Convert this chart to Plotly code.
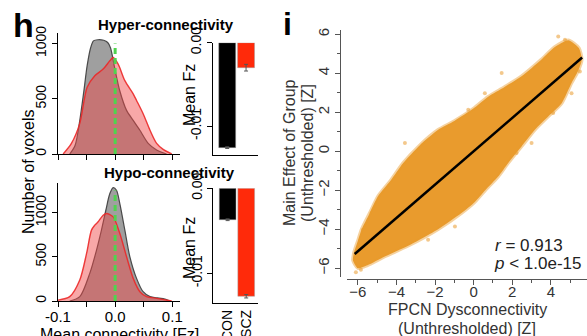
import plotly.graph_objects as go

W, H = 587, 336
FONT = "Liberation Sans, Arial, sans-serif"


def fx(px):
    return px / W


def fy(py):
    return 1 - py / H


# ---- h: distribution of mean connectivity (voxel counts) ----
hyper_con_x = [-0.0795, -0.070, -0.062, -0.055, -0.049, -0.043, -0.038, -0.030, -0.020,
               -0.013, -0.008, -0.001, 0.008, 0.020, 0.0316, 0.0433, 0.0579, 0.0726, 0.090]
hyper_con_y = [0, 80, 300, 560, 800, 960, 1025, 1035, 1030, 1010, 960, 784, 575, 395,
               305, 215, 96, 36, 0]
hyper_scz_x = [-0.091, -0.0765, -0.062, -0.049, -0.0356, -0.021, -0.0093, -0.0035, 0.0053,
               0.017, 0.0316, 0.0375, 0.049, 0.061, 0.0726, 0.084, 0.099]
hyper_scz_y = [0, 96, 275, 604, 709, 769, 844, 874, 814, 664, 545, 485, 365, 215, 96, 42, 0]

hypo_con_x = [-0.0795, -0.0619, -0.0444, -0.0326, -0.024, -0.0163, -0.0093, -0.0035, 0.0024,
              0.0082, 0.017, 0.0258, 0.0375, 0.049, 0.061, 0.0696, 0.084, 0.096]
hypo_con_y = [0, 49, 313, 576, 802, 1027, 1216, 1283, 1253, 1103, 802, 500, 256, 105, 49,
              40, 26, 0]
hypo_scz_x = [-0.1, -0.0795, -0.0619, -0.050, -0.0414, -0.0356, -0.0298, -0.021, -0.015,
              -0.0035, 0.0082, 0.020, 0.0316, 0.0433, 0.055, 0.0726, 0.099]
hypo_scz_y = [10, 49, 237, 538, 802, 858, 896, 971, 990, 952, 764, 500, 256, 105, 49, 30, 0]

zero_line_top = [1000, 1250]

# ---- h: mean Fz per group ----
groups = ["CON", "SCZ"]
hyper_mean = [-0.0126, -0.0030]
hyper_err = [0.0001, 0.0004]
hypo_mean = [-0.0037, -0.0127]
hypo_err = [0.0001, 0.0002]

# ---- i: FPCN dysconnectivity vs main effect of group ----
cloud_x = [-6.25, -6.2, -6.0, -5.8, -5.4, -4.95, -4.3, -3.65, -2.8, -1.84, -1.0, 0.0, 0.75,
           1.6, 2.48, 3.5, 4.2, 4.9, 5.45, 5.6,
           5.4, 5.07, 4.55, 3.86, 3.17, 2.48, 1.79, 1.27, 0.6, 0.06, -0.63, -1.84, -3.39,
           -4.6, -5.5, -6.0]
cloud_y = [-5.6, -5.2, -4.6, -4.0, -3.2, -2.3, -1.5, -0.6, 0.3, 1.1, 1.55, 2.2, 2.8,
           3.3, 3.85, 4.7, 5.35, 5.7, 5.3, 4.7,
           4.1, 3.5, 2.45, 1.78, 1.1, 0.25, -0.6, -1.3, -2.0, -2.6, -3.17, -4.0, -4.85,
           -5.4, -5.85, -6.0]
sparse_x = [-5.84, -5.64, -3.56, -4.86, -5.29, -2.36, -0.97, -0.63, -5.73, 1.45, 4.38,
            4.73, 5.50, 5.07, 3.0, 2.22, -0.28, 0.58, 4.12, -6.1]
sparse_y = [-6.08, -5.65, 0.42, -2.49, -3.17, -4.54, -3.86, -3.0, -4.03, 4.01, 5.89,
            5.72, 4.09, 2.98, 0.42, -0.09, 2.13, 2.98, 1.96, -6.2]
fit_slope, fit_intercept = 0.856, 0.0
fit_x = [-6.16, 5.62]
r_value = 0.913

GRAY_FILL = "rgba(100,100,100,0.62)"
RED_FILL = "rgba(240,70,70,0.47)"
ORANGE = "rgb(233,155,45)"

fig = go.Figure()

# density curves
for xa, ya, cx, cy, sx, sy, top in [
    ("x", "y", hyper_con_x, hyper_con_y, hyper_scz_x, hyper_scz_y, zero_line_top[0]),
    ("x2", "y2", hypo_con_x, hypo_con_y, hypo_scz_x, hypo_scz_y, zero_line_top[1]),
]:
    fig.add_trace(go.Scatter(x=cx, y=cy, xaxis=xa, yaxis=ya, mode="lines",
                             line=dict(color="rgba(60,60,60,0.9)", width=1.2, shape="spline",
                                       smoothing=0.8),
                             fill="tozeroy", fillcolor=GRAY_FILL, showlegend=False))
    fig.add_trace(go.Scatter(x=sx, y=sy, xaxis=xa, yaxis=ya, mode="lines",
                             line=dict(color="rgba(235,40,40,0.9)", width=1.4, shape="spline",
                                       smoothing=0.8),
                             fill="tozeroy", fillcolor=RED_FILL, showlegend=False))
    fig.add_trace(go.Scatter(x=[0, 0], y=[0, top], xaxis=xa, yaxis=ya, mode="lines",
                             line=dict(color="#4fd34f", width=3, dash="6px,4px"),
                             showlegend=False))

# group means
for xa, ya, vals, errs in [("x3", "y3", hyper_mean, hyper_err),
                           ("x4", "y4", hypo_mean, hypo_err)]:
    fig.add_trace(go.Bar(x=groups, y=vals, xaxis=xa, yaxis=ya, width=0.9,
                         marker=dict(color=["#000000", "#ff2a0a"],
                                     line=dict(color="rgba(160,160,160,0.6)", width=0.8)),
                         error_y=dict(type="data", array=errs, color="#555", thickness=1,
                                      width=2),
                         showlegend=False))

# scatter cloud
fig.add_trace(go.Scatter(x=sparse_x, y=sparse_y, xaxis="x5", yaxis="y5", mode="markers",
                         marker=dict(color="rgba(233,155,45,0.55)", size=4),
                         showlegend=False))
fig.add_trace(go.Scatter(x=cloud_x + cloud_x[:1], y=cloud_y + cloud_y[:1], xaxis="x5",
                         yaxis="y5", mode="lines", fill="toself", fillcolor=ORANGE,
                         line=dict(color="rgba(233,155,45,0.45)", width=3.5, shape="spline",
                                   smoothing=0.6),
                         showlegend=False))
fig.add_trace(go.Scatter(x=fit_x, y=[fit_slope * v + fit_intercept for v in fit_x],
                         xaxis="x5", yaxis="y5", mode="lines",
                         line=dict(color="black", width=2.5), showlegend=False))

axis_common = dict(showline=True, linecolor="black", linewidth=1, ticks="outside",
                   tickcolor="black", ticklen=5, showgrid=False, zeroline=False,
                   automargin=False,
                   tickfont=dict(family=FONT, size=14, color="black"))

hist_xticks = dict(tickvals=[-0.1, -0.05, 0, 0.05, 0.1])

fig.update_layout(
    template="none",
    width=W, height=H, margin=dict(l=0, r=0, t=0, b=0, pad=0),
    paper_bgcolor="white", plot_bgcolor="rgba(0,0,0,0)", barmode="group",
    font=dict(family=FONT, color="black"),
    xaxis=dict(axis_common, domain=[fx(58), fx(180)], range=[-0.1, 0.1135], anchor="y",
               showticklabels=False, **hist_xticks),
    yaxis=dict(axis_common, domain=[fy(154), fy(33)], range=[0, 1096], anchor="x",
               tickvals=[0, 500, 1000], tickangle=-90),
    xaxis2=dict(axis_common, domain=[fx(58), fx(180)], range=[-0.1, 0.1135], anchor="y2",
                ticktext=["-0.1", "", "0.0", "", "0.1"], ticklabelstandoff=-3,
                tickfont=dict(family=FONT, size=15, color="black"), **hist_xticks),
    yaxis2=dict(axis_common, domain=[fy(301), fy(183.3)], range=[0, 1332], anchor="x2",
                tickvals=[0, 500, 1000], tickangle=-90),
    xaxis3=dict(axis_common, domain=[fx(212.7), fx(258.3)], range=[-0.77, 1.65],
                anchor="y3", ticks="", showticklabels=False),
    yaxis3=dict(axis_common, domain=[fy(155), fy(42.7)], range=[-0.01348, 0],
                anchor="x3", tickvals=[0, -0.01], ticktext=["0.00", "-0.01"],
                tickangle=-90),
    xaxis4=dict(axis_common, domain=[fx(213.3), fx(258.3)], range=[-0.77, 1.65],
                anchor="y4", ticks="", tickangle=-90),
    yaxis4=dict(axis_common, domain=[fy(303.3), fy(188.3)], range=[-0.01353, 0],
                anchor="x4", tickvals=[0, -0.01], ticktext=["0.00", "-0.01"],
                tickangle=-90),
    xaxis5=dict(axis_common, domain=[fx(347), 1], range=[-6.56, 5.87], anchor="free",
                position=fy(279), dtick=2, tick0=0, linecolor="#555", tickcolor="#555",
                ticklabelstandoff=-6,
                tickfont=dict(family=FONT, size=15, color="#333"),
                minor=dict(dtick=1, ticks="outside", ticklen=3, tickcolor="#555")),
    yaxis5=dict(axis_common, domain=[fy(277), fy(30)], range=[-6.45, 6.22], anchor="free",
                position=fx(340), dtick=2, tick0=0, tickangle=-90, linecolor="#555",
                tickcolor="#555", tickfont=dict(family=FONT, size=15, color="#333"),
                minor=dict(dtick=1, ticks="outside", ticklen=3, tickcolor="#555")),
)


def label(text, px, py, size=16, angle=0, bold=False, color="black", xanchor="center"):
    if bold:
        text = "<b>" + text + "</b>"
    fig.add_annotation(text=text, x=fx(px), y=fy(py), xref="paper", yref="paper",
                       showarrow=False, textangle=angle, xanchor=xanchor, yanchor="middle",
                       font=dict(family=FONT, size=size, color=color))


label("h", 23, 25, size=34, bold=True)
label("i", 287, 24, size=32, bold=True)
label("Hyper-connectivity", 166, 25, size=15, bold=True)
label("Hypo-connectivity", 169, 173, size=15, bold=True)
label("Number of voxels", 28, 172, size=16, angle=-90)
label("Mean connectivity [Fz]", 119, 334, size=16)
label("Mean Fz", 189, 95, size=16, angle=-90)
label("Mean Fz", 189, 248, size=16, angle=-90)
label("Main Effect of Group", 290, 153, size=16, angle=-90, color="#333")
label("(Unthresholded) [Z]", 308, 153, size=16, angle=-90, color="#333")
label("FPCN Dysconnectivity", 467, 309, size=16, color="#333")
label("(Unthresholded) [Z]", 467, 328, size=16, color="#333")
label("<i>r</i> = %.3f" % r_value, 493, 245, size=17, xanchor="left", color="#222")
label("<i>p</i> &lt; 1.0e-15", 492, 263, size=17, xanchor="left", color="#222")

fig.write_html("out.html")
